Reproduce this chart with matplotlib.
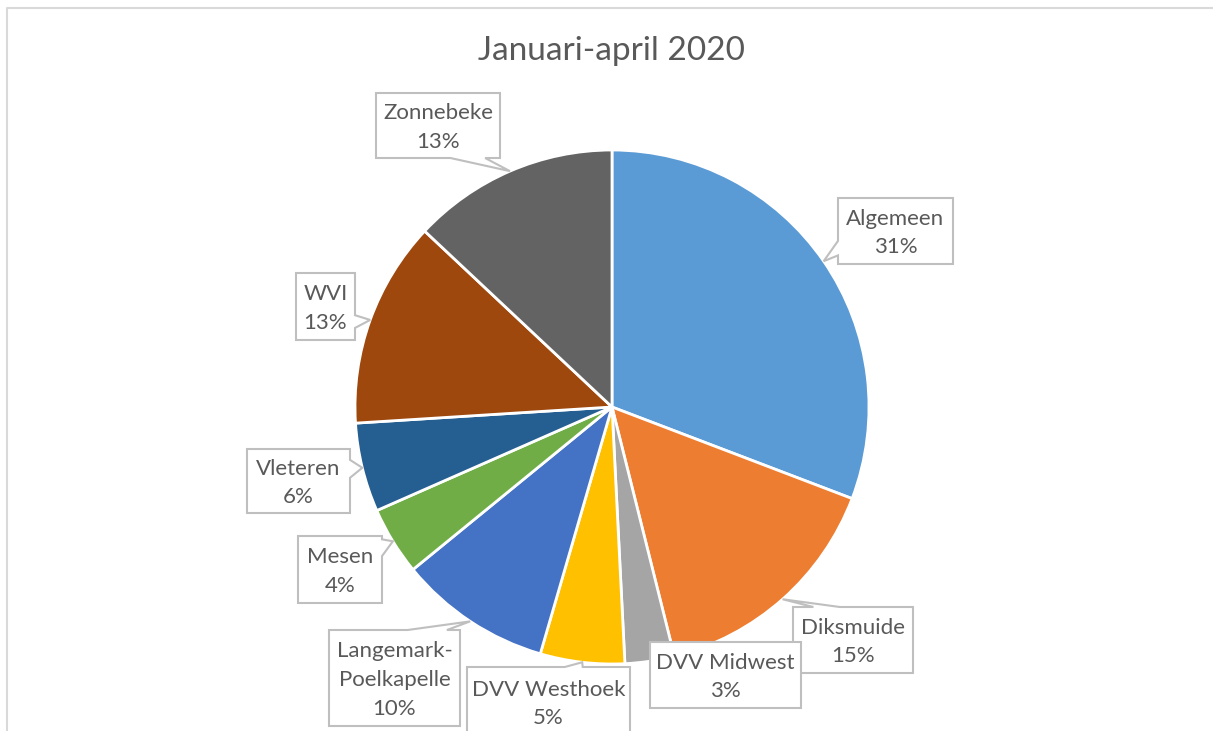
import matplotlib
matplotlib.use("Agg")
import matplotlib.pyplot as plt
from matplotlib.patches import Polygon
import numpy as np

# ---- data ----
categories = ["Algemeen", "Diksmuide", "DVV Midwest", "DVV Westhoek",
              "Langemark-\nPoelkapelle", "Mesen", "Vleteren", "WVI", "Zonnebeke"]
values = [30.8, 15.3, 3.1, 5.3, 9.6, 4.3, 5.6, 13.0, 13.0]
colors = ["#5B9BD5", "#ED7D31", "#A5A5A5", "#FFC000", "#4472C4",
          "#70AD47", "#255E91", "#9E480E", "#636363"]
title = "Januari-april 2020"

# ---- layout (pixel coordinates, y downward) ----
W, H = 1213, 731
CX, CY, R = 612, 407, 257
# label boxes: (x0, y0, x1, y1), pointer side, base fractions (or None)
boxes = [
    ((838, 198, 953, 264), "left", (0.65, 0.87)),
    ((793, 607, 913, 673), "top", (0.17, 0.39)),
    ((650, 642, 801, 708), None, None),
    ((467, 667, 630, 750), "top", (0.60, 0.71)),
    ((329, 630, 460, 726), "top", (0.60, 0.90)),
    ((298, 536, 382, 603), "right", (0.05, 0.30)),
    ((247, 449, 350, 513), "right", (0.17, 0.45)),
    ((296, 273, 355, 340), "right", (0.63, 0.82)),
    ((376, 93, 500, 158), "bottom", (0.60, 0.88)),
]

plt.rcParams['font.family'] = ['Lato', 'DejaVu Sans']
fig = plt.figure(figsize=(W / 100, H / 100), dpi=100)
ax = fig.add_axes([0, 0, 1, 1])

def Y(y):
    return H - y

wedges, _ = ax.pie(values, startangle=90, counterclock=False,
                   center=(CX, Y(CY)), radius=R, colors=colors,
                   wedgeprops=dict(edgecolor="white", linewidth=2))
ax.set_xlim(0, W)
ax.set_ylim(0, H)
ax.set_aspect("equal")
ax.axis("off")

# chart area border
ax.plot([7, 7, W + 5], [Y(H + 5), Y(8), Y(8)], color="#D9D9D9", lw=1.5,
        solid_capstyle="butt", clip_on=False)

# title
ax.text(611, Y(51), title, ha="center", va="center", fontsize=24,
        color="#595959")

total = sum(values)
cum = 0.0
for cat, v, (bx, side, fr) in zip(categories, values, boxes):
    mid = (cum + v / 2) / total * 2 * np.pi
    cum += v
    tx = CX + R * np.sin(mid)
    ty = CY - R * np.cos(mid)
    x0, y0, x1, y1 = bx
    if side is None:
        pts = [(x0, y0), (x1, y0), (x1, y1), (x0, y1)]
    elif side == "top":
        a = x0 + fr[0] * (x1 - x0)
        b = x0 + fr[1] * (x1 - x0)
        pts = [(x0, y0), (a, y0), (tx, ty), (b, y0), (x1, y0), (x1, y1), (x0, y1)]
    elif side == "bottom":
        a = x0 + fr[0] * (x1 - x0)
        b = x0 + fr[1] * (x1 - x0)
        pts = [(x0, y0), (x1, y0), (x1, y1), (b, y1), (tx, ty), (a, y1), (x0, y1)]
    elif side == "left":
        a = y0 + fr[0] * (y1 - y0)
        b = y0 + fr[1] * (y1 - y0)
        pts = [(x0, y0), (x1, y0), (x1, y1), (x0, y1), (x0, b), (tx, ty), (x0, a)]
    else:  # right
        a = y0 + fr[0] * (y1 - y0)
        b = y0 + fr[1] * (y1 - y0)
        pts = [(x0, y0), (x1, y0), (x1, a), (tx, ty), (x1, b), (x1, y1), (x0, y1)]
    poly = Polygon([(px, Y(py)) for px, py in pts], closed=True,
                   facecolor="white", edgecolor="#BFBFBF", lw=1.5, zorder=5)
    ax.add_patch(poly)
    label = f"{cat}\n{v / total * 100:.0f}%"
    ycen = (y0 + y1) / 2 + 2 if y1 <= H else y0 + 37
    ax.text((x0 + x1) / 2, Y(ycen), label, ha="center", va="center",
            fontsize=16, color="#595959", linespacing=1.55, zorder=6)

fig.savefig("out.png", dpi=100)
